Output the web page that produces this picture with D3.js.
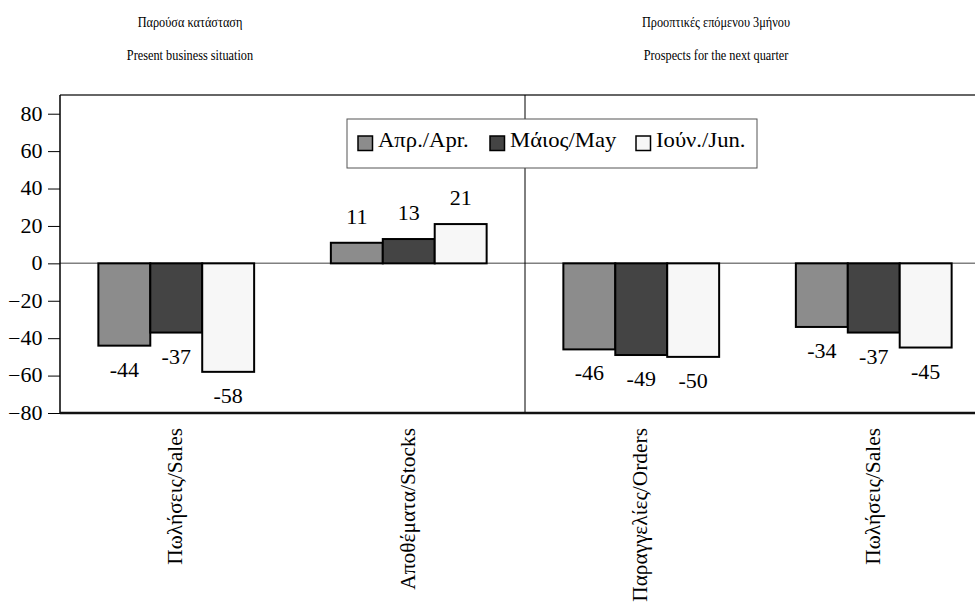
<!DOCTYPE html>
<html>
<head>
<meta charset="utf-8">
<script src="https://cdn.jsdelivr.net/npm/d3@7"></script>
<style>
  body { margin: 0; background: #fff; }
  svg text { font-family: "Liberation Serif", "DejaVu Serif", serif; }
</style>
</head>
<body>
<div id="chart"></div>
<script>
const categories = ['Πωλήσεις/Sales', 'Αποθέματα/Stocks', 'Παραγγελίες/Orders', 'Πωλήσεις/Sales '];
const seriesNames = ['Απρ./Apr.', 'Μάιος/May', 'Ιούν./Jun.'];
const aprValues = [-44, 11, -46, -34];
const mayValues = [-37, 13, -49, -37];
const junValues = [-58, 21, -50, -45];
const yTicks = [-80, -60, -40, -20, 0, 20, 40, 60, 80];
const sectionTitles = [
  ['Παρούσα κατάσταση', 'Present business situation'],
  ['Προοπτικές επόμενου 3μήνου', 'Prospects for the next quarter']
];

const colors = ['#8c8c8c', '#444444', '#f7f7f7'];
const series = [aprValues, mayValues, junValues];

const w = 975;
const h = 608;
const plotLeft = 60, plotRight = 990, plotTop = 95, plotBottom = 413;

const svg = d3.select('#chart')
  .append('svg')
  .attr('width', w)
  .attr('height', h);

const xScale = d3.scaleBand()
  .domain(categories)
  .range([plotLeft, plotRight])
  .paddingInner(0.33)
  .paddingOuter(0.165);

const xSub = d3.scaleBand()
  .domain(d3.range(series.length))
  .range([0, xScale.bandwidth()]);

const yScale = d3.scaleLinear()
  .domain([-80, 90])
  .range([plotBottom, plotTop]);

// section titles
sectionTitles.forEach((t, i) => {
  const cx = i === 0 ? 190 : 716;
  t.forEach((line, j) => {
    svg.append('text')
      .attr('transform', 'translate(' + cx + ',' + (27 + j * 33) + ') scale(0.82,1)')
      .attr('text-anchor', 'middle')
      .style('font-size', '15px')
      .style('fill', '#000')
      .text(line);
  });
});

// frame top
svg.append('line')
  .attr('x1', plotLeft).attr('x2', w)
  .attr('y1', plotTop).attr('y2', plotTop)
  .attr('stroke', '#333').attr('stroke-width', 1.5);

// zero line
svg.append('line')
  .attr('x1', plotLeft).attr('x2', w)
  .attr('y1', yScale(0)).attr('y2', yScale(0))
  .attr('stroke', '#808080').attr('stroke-width', 1.5);

// divider between sections
const divX = xScale(categories[2]) - xScale.step() * xScale.paddingInner() / 2;
svg.append('line')
  .attr('x1', divX).attr('x2', divX)
  .attr('y1', plotTop).attr('y2', plotBottom)
  .attr('stroke', '#000').attr('stroke-width', 1);

// y axis
const yAxis = d3.axisLeft(yScale)
  .tickValues(yTicks)
  .tickSize(12)
  .tickPadding(4)
  .tickSizeOuter(0);

const yG = svg.append('g')
  .attr('transform', 'translate(' + plotLeft + ',0)')
  .call(yAxis);
yG.select('.domain').remove();
yG.selectAll('line').attr('stroke', '#000');
yG.selectAll('text')
  .attr('transform', 'scale(1.1,1)')
  .style('font-size', '20px')
  .style('fill', '#000');

svg.append('line')
  .attr('x1', plotLeft).attr('x2', plotLeft)
  .attr('y1', plotTop).attr('y2', plotBottom)
  .attr('stroke', '#000').attr('stroke-width', 1.5);

// bottom axis line
svg.append('line')
  .attr('x1', plotLeft).attr('x2', w)
  .attr('y1', plotBottom).attr('y2', plotBottom)
  .attr('stroke', '#111').attr('stroke-width', 2.5);

// bars
series.forEach((vals, s) => {
  const g = svg.append('g');
  g.selectAll('rect')
    .data(vals)
    .enter()
    .append('rect')
    .attr('x', (d, i) => xScale(categories[i]) + xSub(s))
    .attr('width', xSub.bandwidth())
    .attr('y', d => yScale(Math.max(0, d)))
    .attr('height', d => Math.abs(yScale(d) - yScale(0)))
    .attr('fill', colors[s])
    .attr('stroke', '#000')
    .attr('stroke-width', 2);

  g.selectAll('text')
    .data(vals)
    .enter()
    .append('text')
    .attr('transform', (d, i) => 'translate(' + (xScale(categories[i]) + xSub(s) + xSub.bandwidth() / 2) + ',' +
      (d < 0 ? yScale(d) + 24 : yScale(d) - 26) + ') scale(1.1,1)')
    .attr('dy', '0.35em')
    .attr('text-anchor', 'middle')
    .style('font-size', '20px')
    .style('fill', '#000')
    .text(d => d);
});

// category labels
svg.selectAll('.cat')
  .data(categories)
  .enter()
  .append('text')
  .attr('class', 'cat')
  .attr('transform', d => 'translate(' + (xScale(d) + xScale.bandwidth() / 2 + 6) + ',428) rotate(-90) scale(1.07,1)')
  .attr('text-anchor', 'end')
  .style('font-size', '20px')
  .style('fill', '#000')
  .text(d => d.trim());

// legend
const legend = svg.append('g')
  .attr('transform', 'translate(347,119)');
legend.append('rect')
  .attr('width', 410)
  .attr('height', 49)
  .attr('fill', '#fff')
  .attr('stroke', '#555')
  .attr('stroke-width', 1);

const legendX = [11, 143, 289];
seriesNames.forEach((name, i) => {
  legend.append('rect')
    .attr('x', legendX[i])
    .attr('y', 17)
    .attr('width', 14.5)
    .attr('height', 14.5)
    .attr('fill', colors[i])
    .attr('stroke', '#000')
    .attr('stroke-width', 1.5);
  legend.append('text')
    .attr('transform', 'translate(' + (legendX[i] + 20) + ',28) scale(1.08,1)')
    .style('font-size', '21px')
    .style('fill', '#000')
    .text(name);
});
</script>
</body>
</html>
